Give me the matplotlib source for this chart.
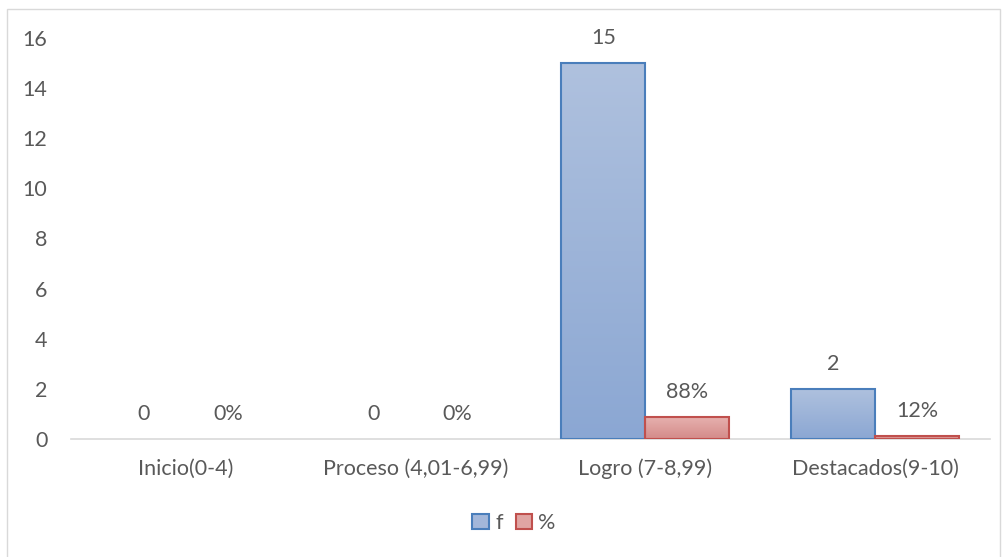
import matplotlib.pyplot as plt
import numpy as np
from matplotlib.patches import Rectangle
from matplotlib.colors import LinearSegmentedColormap

plt.rcParams['font.family'] = ['Lato', 'DejaVu Sans']

categorias = ["Inicio(0-4)", "Proceso (4,01-6,99)", "Logro (7-8,99)", "Destacados(9-10)"]
frecuencia = [0, 0, 15, 2]
porcentaje = [0.00, 0.00, 0.88, 0.12]
etiquetas_f = ["0", "0", "15", "2"]
etiquetas_p = ["0%", "0%", "88%", "12%"]

gris = "#595959"
tam = 15.5
fig = plt.figure(figsize=(10.04, 5.57), dpi=100)
# marco del gráfico (el borde inferior queda fuera de la imagen)
fig.patches.append(Rectangle((7 / 1004, -0.05), 993 / 1004, 1 - 9 / 557 + 0.05,
                             transform=fig.transFigure, fill=False,
                             edgecolor="#d9d9d9", linewidth=1))

ax = fig.add_axes([71 / 1004, 1 - 439 / 557, (990 - 71) / 1004, (439 - 38) / 557])

x = np.arange(len(categorias))
ancho = 0.366

azul = LinearSegmentedColormap.from_list("azul", ["#8ba7d3", "#afc1de"])
rojo = LinearSegmentedColormap.from_list("rojo", ["#d48b89", "#e7b2b0"])


def barras_degradado(posiciones, valores, cmap, borde, etiquetas):
    barras = ax.bar(posiciones, valores, width=ancho, color="none",
                    edgecolor=borde, linewidth=1.5, zorder=3)
    for b, et in zip(barras, etiquetas):
        h = b.get_height()
        if h > 0:
            grad = np.linspace(0, 1, 256).reshape(-1, 1)
            img = ax.imshow(grad, cmap=cmap, origin="lower", aspect="auto",
                            extent=[b.get_x(), b.get_x() + b.get_width(), 0, h],
                            zorder=2)
            img.set_clip_path(b)
        else:
            b.set_visible(False)
        ax.annotate(et, (b.get_x() + b.get_width() / 2, h), xytext=(0, 11),
                    textcoords="offset points", ha="center", va="bottom",
                    fontsize=tam, color=gris)
    return barras


barras_degradado(x - ancho / 2, frecuencia, azul, "#4a7ebb", etiquetas_f)
barras_degradado(x + ancho / 2, porcentaje, rojo, "#c0504d", etiquetas_p)
ax.set_xlim(-0.5, 3.5)
ax.set_ylim(0, 16)

for s in ["top", "right", "left"]:
    ax.spines[s].set_visible(False)
ax.spines["bottom"].set_color("#d9d9d9")
ax.spines["bottom"].set_linewidth(1.2)
ax.set_yticks(range(0, 17, 2))
ax.set_xticks(x)
ax.set_xticklabels(categorias)
ax.tick_params(axis="both", length=0, labelsize=tam, colors=gris)
ax.tick_params(axis="y", pad=17)
ax.tick_params(axis="x", pad=14)

# leyenda
h1 = Rectangle((0, 0), 1, 1, facecolor="#a3b7da", edgecolor="#4a7ebb", linewidth=1.5)
h2 = Rectangle((0, 0), 1, 1, facecolor="#e0a5a3", edgecolor="#c0504d", linewidth=1.5)
fig.legend([h1, h2], ["f", "%"], loc="center", bbox_to_anchor=(514 / 1004, 1 - 523 / 557),
           ncol=2, frameon=False, fontsize=tam, labelcolor=gris,
           handlelength=0.75, handleheight=0.75, handletextpad=0.3, columnspacing=0.6)

fig.savefig("out.png", dpi=100)
